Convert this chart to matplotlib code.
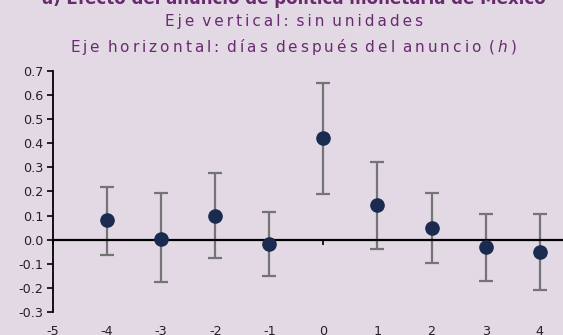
import numpy as np
import matplotlib
matplotlib.use("Agg")
import matplotlib.pyplot as plt

plt.rcParams["axes.unicode_minus"] = False

# respuesta estimada por horizonte y sus intervalos
h = [-4, -3, -2, -1, 0, 1, 2, 3, 4]
coef = [0.08, 0.004, 0.10, -0.02, 0.423, 0.145, 0.05, -0.032, -0.05]
upper = [0.22, 0.195, 0.276, 0.113, 0.649, 0.321, 0.193, 0.106, 0.106]
lower = [-0.064, -0.177, -0.076, -0.152, 0.188, -0.039, -0.095, -0.17, -0.209]
xticks = [-5, -4, -3, -2, -1, 0, 1, 2, 3, 4]
yticks = [-0.3, -0.2, -0.1, 0.0, 0.1, 0.2, 0.3, 0.4, 0.5, 0.6, 0.7]

bg = "#e2d9e5"
purple = "#6a2a70"


def spaced(s):
    # letras separadas con espacio fino
    words = s.split(" ")
    return "\u2009 ".join("\u2009".join(w) for w in words)


fig = plt.figure(figsize=(5.63, 3.35), dpi=100, facecolor=bg)
ax = fig.add_axes([0.094, 0.069, 0.906, 0.719], facecolor=bg)

coef = np.array(coef)
err = [coef - np.array(lower), np.array(upper) - coef]
ax.errorbar(h, coef, yerr=err, fmt="none", ecolor="#747474", elinewidth=1.6,
            capsize=5, capthick=1.6, zorder=2)
ax.plot(h, coef, "o", color="#1b2b50", markersize=9.5, zorder=3)

ax.set_xlim(-5, 4.43)
ax.set_ylim(-0.3, 0.7)
ax.set_xticks(xticks)
ax.set_yticks(yticks)
ax.set_yticklabels([f"{v:.1f}" for v in yticks])

ax.spines["top"].set_visible(False)
ax.spines["right"].set_visible(False)
ax.spines["bottom"].set_position(("data", 0))
ax.spines["bottom"].set_linewidth(1.6)
ax.spines["left"].set_linewidth(1.3)
ax.tick_params(axis="y", direction="out", length=4, width=1.2, labelsize=9.2,
               colors="black", pad=3)
ax.tick_params(axis="x", direction="out", length=3.5, width=1.2, labelsize=9.2,
               pad=58)
for lab in ax.get_xticklabels() + ax.get_yticklabels():
    lab.set_color("#222222")

fig.text(0.522, 1.004, "a) Efecto del anuncio de política monetaria de México",
         ha="center", va="center", fontsize=12, fontweight="bold", color=purple)
fig.text(0.522, 0.937, spaced("Eje vertical: sin unidades"),
         ha="center", va="center", fontsize=11, color=purple)
fig.text(0.522, 0.860,
         spaced("Eje horizontal: días después del anuncio (") + "\u2009$h$\u2009)",
         ha="center", va="center", fontsize=11, color=purple)

fig.savefig("out.png", dpi=100, facecolor=bg)
